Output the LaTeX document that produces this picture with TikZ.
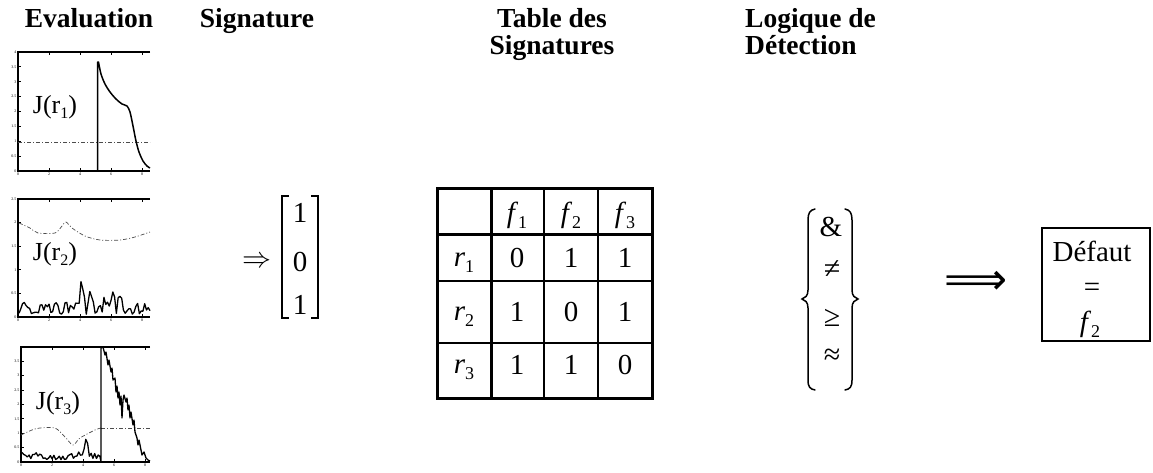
\RequirePackage{fix-cm}
\documentclass[tikz,border=0pt]{standalone}
\usepackage{fontspec}
\setmainfont{Liberation Serif}
\newfontfamily\symfont{DejaVu Sans}
\newcommand\sbt[1]{\raisebox{-6pt}{\fontsize{18}{18}\selectfont #1}}
\newcommand\sbj[1]{\raisebox{-5pt}{\fontsize{16}{16}\selectfont #1}}
\begin{document}
\begin{tikzpicture}[x=1pt,y=-1pt,
  title/.style={font=\fontsize{27.5}{27}\selectfont\bfseries, inner sep=0pt},
  txt/.style={font=\fontsize{29}{32}\selectfont, inner sep=0pt},
  sym/.style={font=\fontsize{30}{32}\selectfont, inner sep=0pt},
  jlab/.style={font=\fontsize{26}{28}\selectfont, inner sep=0pt},
  frame/.style={line width=1.4pt},
  sig/.style={line width=1.5pt, line join=round},
  thr/.style={line width=0.7pt, dash pattern=on 4pt off 2pt on 1pt off 2pt, black!70},
  tickmark/.style={line width=0.8pt},
  ticklab/.style={font=\fontsize{4}{4}\selectfont, inner sep=0.5pt},
  tabout/.style={line width=3pt},
  tabin/.style={line width=1.6pt},
  delim/.style={line width=1.5pt, line cap=round},
  resbox/.style={draw, line width=1.3pt, minimum width=108pt, minimum height=113pt, inner sep=0pt}
]
\useasboundingbox (0,0) rectangle (1153,472);

% ---------- titles ----------
\node[title, anchor=base] (tEval) at (89,27) {Evaluation};
\node[title, anchor=base] (tSig) at (257,27) {Signature};
\node[title, anchor=base, align=center] (tTab) at (552,54) {Table des\\Signatures};
\node[title, anchor=base west, align=left] (tLog) at (745,54) {Logique de\\Détection};

% ---------- plot 1 ----------
\draw[frame] (150,52) -- (18,52) -- (18,171) -- (150,171);
\foreach \i/\l in {0/0,1/0.5,2/1,3/1.5,4/2,5/2.5,6/3,7/3.5,8/4}{
  \draw[tickmark] (18,{171-\i*14.875}) -- (21,{171-\i*14.875});
  \node[ticklab, anchor=east] at (17,{171-\i*14.875}) {\l};
}
\foreach \k/\l in {0/0,1/2,2/4,3/6,4/8}{
  \draw[tickmark] ({18+\k*31},171) -- ({18+\k*31},168);
  \draw[tickmark] ({18+\k*31},52) -- ({18+\k*31},55);
  \node[ticklab, anchor=north] at ({18+\k*31},172) {\l};
}
\draw[thr] (18,142) -- (150,142);
\draw[sig] (97.5,171) -- (97.5,62) -- plot[smooth] coordinates {(98.5,62) (101,74) (105,84) (110,92) (116,99) (122,104) (127,106) (130,112) (133,126) (136,141) (139,152) (143,161) (147,166) (150,168)};
\node[jlab] (j1) at (55,107) {J(r\sbj{1})};

% ---------- plot 2 ----------
\draw[frame] (150,199) -- (18,199) -- (18,317) -- (150,317);
\foreach \i/\l in {0/0,1/0.5,2/1,3/1.5,4/2,5/2.5}{
  \draw[tickmark] (18,{317-\i*23.6}) -- (21,{317-\i*23.6});
  \node[ticklab, anchor=east] at (17,{317-\i*23.6}) {\l};
}
\foreach \k/\l in {0/0,1/2,2/4,3/6,4/8}{
  \draw[tickmark] ({18+\k*31},317) -- ({18+\k*31},314);
  \draw[tickmark] ({18+\k*31},199) -- ({18+\k*31},202);
  \node[ticklab, anchor=north] at ({18+\k*31},318) {\l};
}
\draw[thr] plot[smooth] coordinates {(19,223) (30,228) (38,233) (55,233) (62,226) (66,222) (72,228) (85,236) (100,240) (120,240) (135,237) (150,232)};
\pgfmathsetseed{7}
\draw[sig, line width=1.3pt] plot[domain=19:150, samples=75] (\x,{315 - 13*rnd - 30*max(0,1-abs(\x-82)/3.5) - 14*max(0,1-abs(\x-90)/3) - 12*max(0,1-abs(\x-105)/3) - 24*max(0,1-abs(\x-113)/3.5) - 12*max(0,1-abs(\x-120)/3)});
\node[jlab] (j2) at (55,254) {J(r\sbj{2})};

% ---------- plot 3 ----------
\draw[frame] (150,347) -- (21,347) -- (21,462) -- (150,462);
\foreach \i/\l in {0/0,1/0.5,2/1,3/1.5,4/2,5/2.5,6/3,7/3.5}{
  \draw[tickmark] (21,{462-\i*14.4}) -- (24,{462-\i*14.4});
  \node[ticklab, anchor=east] at (20,{462-\i*14.4}) {\l};
}
\foreach \k/\l in {0/0,1/2,2/4,3/6,4/8}{
  \draw[tickmark] ({21+\k*31},462) -- ({21+\k*31},459);
  \draw[tickmark] ({21+\k*31},347) -- ({21+\k*31},350);
  \node[ticklab, anchor=north] at ({21+\k*31},463) {\l};
}
\draw[thr] plot[smooth] coordinates {(21,435) (32,430) (40,428) (55,428) (65,437) (73,445) (80,438) (95,430) (101,428)};
\draw[thr] (101,428) -- (150,428);
\pgfmathsetseed{11}
\draw[sig, line width=1.3pt] plot[domain=22:100, samples=45] (\x,{460 - 8*rnd - 20*max(0,1-abs(\x-86)/3) - 6*max(0,1-abs(\x-79)/3)}) -- (101,462) -- (101,348) -- plot coordinates {(103,347) (105,355) (106,352) (108,365) (109,360) (111,372) (112,368) (113,380) (115,378) (116,392) (117,386) (118,398) (119,392) (120,405) (121,396) (122,418) (123,400) (124,395) (126,402) (127,398) (128,410) (129,405) (130,418) (131,412) (133,425) (134,420) (135,432) (137,438) (138,445) (139,440) (141,450) (142,455) (144,452) (146,458) (148,460) (150,461)};
\node[jlab] (j3) at (58,403) {J(r\sbj{3})};

% ---------- signature vector ----------
\node[txt] (arr1) at (257,262) {$\Rightarrow$};
\draw[delim, line cap=butt] (289,196) -- (282,196) -- (282,318) -- (289,318);
\draw[delim, line cap=butt] (311,196) -- (318,196) -- (318,318) -- (311,318);
\node[txt] (v1) at (300,213) {1};
\node[txt] (v2) at (300,262) {0};
\node[txt] (v3) at (300,305) {1};

% ---------- signature table ----------
\draw[tabin] (544,188) -- (544,398);
\draw[tabin] (598,188) -- (598,398);
\draw[tabin] (437,281) -- (652,281);
\draw[tabin] (437,343) -- (652,343);
\draw[tabout] (491,188) -- (491,398);
\draw[tabout] (437,234) -- (652,234);
\draw[tabout] (437,188) rectangle (652,398);
\node[txt, anchor=base] (f1) at (517,222) {\textit{f}\sbt{1}};
\node[txt, anchor=base] (f2h) at (571,222) {\textit{f}\sbt{2}};
\node[txt, anchor=base] (f3) at (625,222) {\textit{f}\sbt{3}};
\node[txt, anchor=base] (r1) at (464,266) {\textit{r}\sbt{1}};
\node[txt, anchor=base] (r2) at (464,320) {\textit{r}\sbt{2}};
\node[txt, anchor=base] (r3) at (464,373) {\textit{r}\sbt{3}};
\node[txt] (c11) at (517,258) {0};
\node[txt] (c12) at (571,258) {1};
\node[txt] (c13) at (625,258) {1};
\node[txt] (c21) at (517,312) {1};
\node[txt] (c22) at (571,312) {0};
\node[txt] (c23) at (625,312) {1};
\node[txt] (c31) at (517,365) {1};
\node[txt] (c32) at (571,365) {1};
\node[txt] (c33) at (625,365) {0};

% ---------- detection logic ----------
\draw[delim] (815,209) .. controls (810,210) and (808,213) .. (808,220) -- (808,290) .. controls (808,296) and (805,298) .. (802,299) .. controls (805,300) and (808,302) .. (808,308) -- (808,380) .. controls (808,387) and (810,389) .. (815,390);
\draw[delim] (845,209) .. controls (850,210) and (852,213) .. (852,220) -- (852,290) .. controls (852,296) and (855,298) .. (858,299) .. controls (855,300) and (852,302) .. (852,308) -- (852,380) .. controls (852,387) and (850,389) .. (845,390);
\node[txt] (and) at (831,227) {\&};
\node[sym] (neq) at (832,270) {≠};
\node[sym] (geq) at (832,318) {≥};
\node[sym] (approx) at (832,357) {≈};

% ---------- result ----------
\node[font=\fontsize{44}{46}\selectfont\symfont, inner sep=0pt] (arr2) at (976,283) {⟹};
\node[resbox] (res) at (1096,284.5) {};
\node[txt, anchor=base] (def) at (1092,261) {Défaut};
\node[txt] (eq) at (1092,290) {=};
\node[txt, anchor=base] (fres) at (1090,331) {\textit{f}\sbt{2}};
\end{tikzpicture}
\end{document}
